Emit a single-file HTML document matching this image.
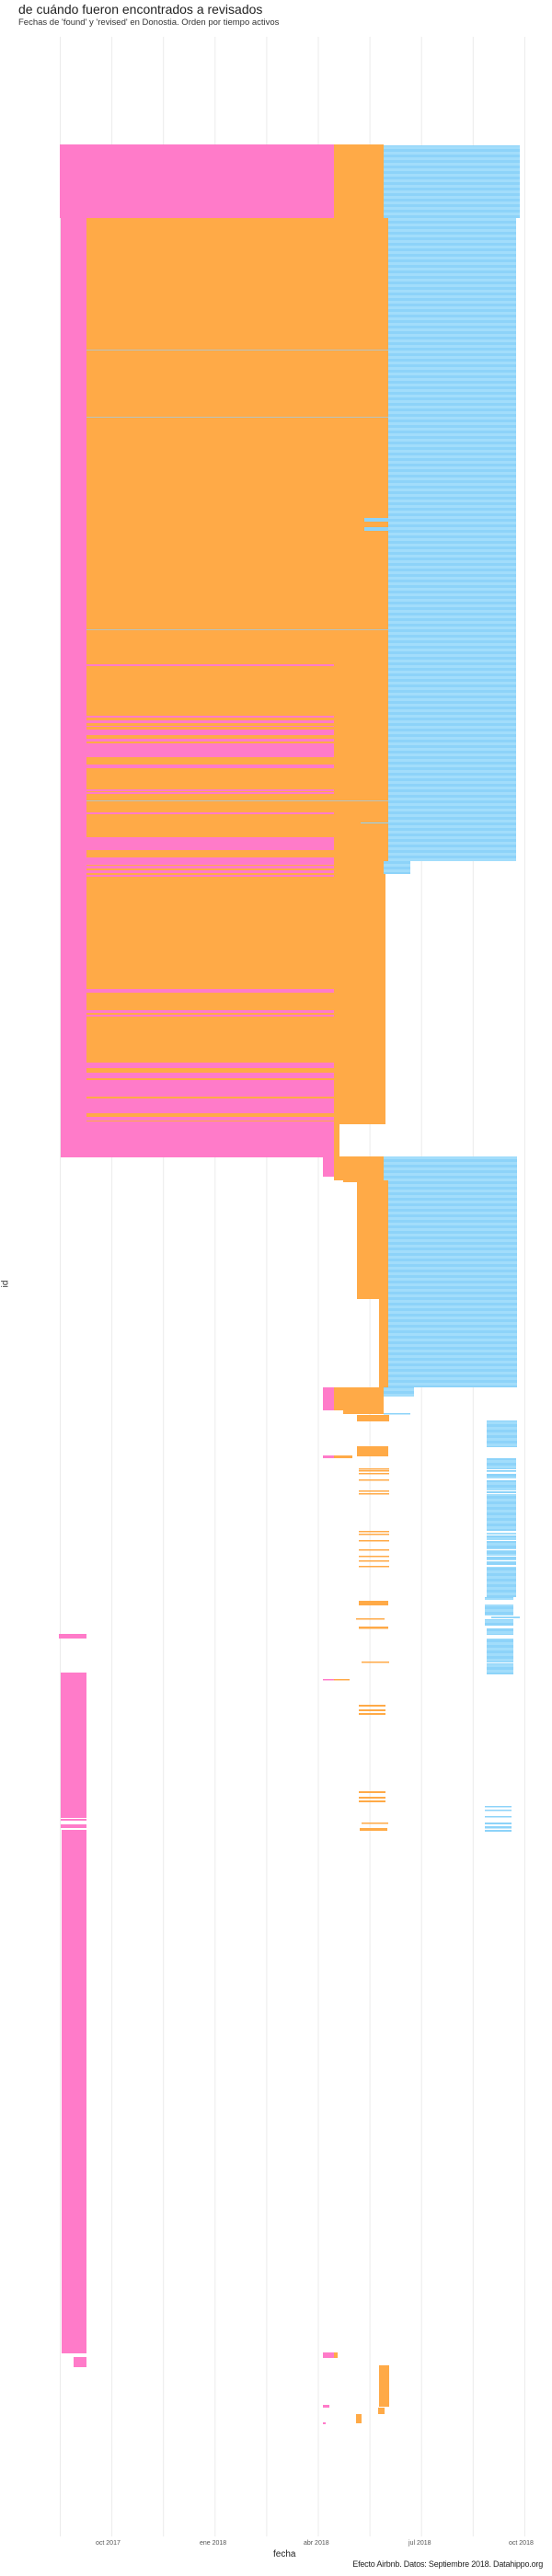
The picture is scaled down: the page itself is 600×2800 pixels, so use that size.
<!DOCTYPE html>
<html><head><meta charset="utf-8"><style>
html,body{margin:0;padding:0;background:#fff;}
body{width:600px;height:2800px;position:relative;overflow:hidden;font-family:"Liberation Sans",sans-serif;}
.t{position:absolute;white-space:nowrap;}
</style></head><body>
<div class="t" style="left:20px;top:2px;font-size:14px;color:#222;">de cuándo fueron encontrados a revisados</div>
<div class="t" style="left:20px;top:19px;font-size:9.5px;color:#333;">Fechas de 'found' y 'revised' en Donostia. Orden por tiempo activos</div>
<div class="t" style="left:2px;top:1390px;font-size:10px;color:#333;transform:rotate(-90deg);">id</div>
<svg width="600" height="2800" style="position:absolute;left:0;top:0" xmlns="http://www.w3.org/2000/svg">
<defs>
<pattern id="bl" width="10" height="6" patternUnits="userSpaceOnUse">
<rect width="10" height="3" fill="#8dd3f9"/><rect y="3" width="10" height="3" fill="#a2ddfb"/>
</pattern>
</defs>
<g stroke="#ebebeb" stroke-width="1">
<line x1="65.5" y1="40" x2="65.5" y2="2757"/><line x1="121.6" y1="40" x2="121.6" y2="2757"/>
<line x1="177.7" y1="40" x2="177.7" y2="2757"/><line x1="233.8" y1="40" x2="233.8" y2="2757"/>
<line x1="289.9" y1="40" x2="289.9" y2="2757"/><line x1="346" y1="40" x2="346" y2="2757"/>
<line x1="402.1" y1="40" x2="402.1" y2="2757"/><line x1="458.2" y1="40" x2="458.2" y2="2757"/>
<line x1="514.3" y1="40" x2="514.3" y2="2757"/><line x1="570.4" y1="40" x2="570.4" y2="2757"/>
</g>
<rect x="65" y="157" width="298" height="80" fill="#ff7bc9"/>
<rect x="363" y="157" width="54" height="80" fill="#ffaa47"/>
<rect x="417" y="158" width="148" height="79" fill="url(#bl)"/>
<rect x="94" y="237" width="328" height="699" fill="#ffaa47"/>
<rect x="94" y="936" width="325" height="286" fill="#ffaa47"/>
<rect x="363" y="1222" width="6" height="35" fill="#ffaa47"/>
<rect x="66" y="237" width="28" height="1021" fill="#ff7bc9"/>
<rect x="422" y="237" width="139" height="699" fill="url(#bl)"/>
<rect x="417" y="936" width="29" height="14" fill="url(#bl)"/>
<g fill="#b9c3bd">
<rect x="94" y="380" width="328" height="1"/><rect x="94" y="453" width="328" height="1"/>
<rect x="94" y="684" width="328" height="1"/><rect x="94" y="870" width="328" height="1"/>
</g>
<g fill="#8dd3f9">
<rect x="396" y="563" width="26" height="4"/><rect x="396" y="573" width="26" height="4"/>
<rect x="392" y="894" width="30" height="1"/>
</g>
<g fill="#ff7bc9">
<rect x="94" y="722" width="269" height="2"/><rect x="94" y="778" width="269" height="2"/>
<rect x="94" y="783" width="269" height="3"/><rect x="94" y="789" width="269" height="1"/>
<rect x="94" y="793" width="269" height="6"/><rect x="94" y="803" width="269" height="3"/>
<rect x="94" y="808" width="269" height="15"/><rect x="94" y="831" width="269" height="4"/>
<rect x="94" y="858" width="269" height="2"/><rect x="94" y="861" width="269" height="2"/>
<rect x="94" y="883" width="269" height="2"/><rect x="94" y="910" width="269" height="14"/>
<rect x="94" y="932" width="269" height="8"/><rect x="94" y="941" width="269" height="3"/>
<rect x="94" y="946" width="269" height="3"/><rect x="94" y="951" width="269" height="2"/>
<rect x="94" y="1075" width="269" height="4"/><rect x="94" y="1098" width="269" height="3"/>
<rect x="94" y="1103" width="269" height="2"/><rect x="94" y="1158" width="269" height="2"/>
<rect x="94" y="1155" width="269" height="6"/><rect x="94" y="1166" width="269" height="6"/>
<rect x="94" y="1174" width="269" height="18"/><rect x="94" y="1194" width="269" height="16"/>
<rect x="94" y="1214" width="269" height="4"/><rect x="94" y="1219" width="269" height="39"/>
</g>
<rect x="417" y="1257" width="145" height="30" fill="url(#bl)"/>
<rect x="422" y="1287" width="140" height="221" fill="url(#bl)"/>
<rect x="351" y="1257" width="12" height="22" fill="#ff7bc9"/>
<rect x="363" y="1257" width="54" height="26" fill="#ffaa47"/>
<rect x="373" y="1283" width="49" height="2" fill="#ffaa47"/>
<rect x="388" y="1284" width="34" height="128" fill="#ffaa47"/>
<rect x="412" y="1412" width="10" height="96" fill="#ffaa47"/>
<rect x="351" y="1508" width="12" height="25" fill="#ff7bc9"/>
<rect x="363" y="1508" width="54" height="25" fill="#ffaa47"/>
<rect x="373" y="1533" width="44" height="4" fill="#ffaa47"/>
<rect x="417" y="1508" width="33" height="10" fill="url(#bl)"/>
<rect x="417" y="1536" width="29" height="1.5" fill="#8dd3f9"/>
<rect x="388" y="1538" width="35" height="7" fill="#ffaa47"/>
<rect x="529" y="1544" width="33" height="29" fill="url(#bl)"/>
<rect x="388" y="1572" width="34" height="11" fill="#ffaa47"/>
<rect x="351" y="1582" width="12" height="3" fill="#ff7bc9"/>
<rect x="363" y="1582" width="20" height="3" fill="#ffaa47"/>
<g fill="#ffaa47">
<rect x="390" y="1596" width="33" height="1.5"/><rect x="390" y="1598" width="33" height="1.5"/>
<rect x="390" y="1601" width="33" height="1.5"/><rect x="390" y="1608" width="33" height="1.5"/>
<rect x="390" y="1620" width="33" height="1.5"/><rect x="390" y="1623" width="33" height="1.5"/>
<rect x="390" y="1664" width="33" height="1.5"/><rect x="390" y="1667" width="33" height="1.5"/>
<rect x="390" y="1674" width="33" height="1.5"/><rect x="390" y="1684" width="33" height="1.5"/>
<rect x="390" y="1691" width="33" height="1.5"/><rect x="390" y="1696" width="33" height="1.5"/>
<rect x="390" y="1702" width="33" height="1.5"/>
<rect x="390" y="1740" width="32" height="5"/><rect x="387" y="1759" width="31" height="1.5"/>
<rect x="390" y="1768" width="32" height="2.5"/><rect x="393" y="1806" width="30" height="1.5"/>
<rect x="363" y="1825" width="17" height="1.5"/>
<rect x="390" y="1853" width="29" height="2"/><rect x="390" y="1858" width="29" height="2"/>
<rect x="390" y="1862" width="29" height="2"/>
<rect x="390" y="1947" width="29" height="2"/><rect x="390" y="1953" width="29" height="2"/>
<rect x="390" y="1957" width="29" height="2"/>
<rect x="393" y="1981" width="29" height="1.5"/><rect x="391" y="1987" width="30" height="3"/>
</g>
<rect x="351" y="1825" width="12" height="1.5" fill="#ff7bc9"/>
<g fill="url(#bl)">
<rect x="529" y="1585" width="32" height="12"/><rect x="529" y="1598" width="32" height="2"/>
<rect x="529" y="1602" width="32" height="5"/><rect x="529" y="1609" width="32" height="11"/>
<rect x="529" y="1621" width="32" height="2"/><rect x="529" y="1624" width="32" height="40"/>
<rect x="529" y="1666" width="32" height="2"/><rect x="529" y="1669" width="32" height="5"/>
<rect x="529" y="1675" width="32" height="9"/><rect x="529" y="1685" width="32" height="6"/>
<rect x="529" y="1692" width="32" height="4"/><rect x="529" y="1697" width="32" height="4"/>
<rect x="529" y="1703" width="32" height="33"/><rect x="527" y="1736" width="31" height="3"/>
<rect x="527" y="1744" width="31" height="12"/><rect x="534" y="1757" width="31" height="2"/>
<rect x="527" y="1760" width="31" height="7"/><rect x="529" y="1770" width="29" height="7"/>
<rect x="529" y="1781" width="29" height="26"/><rect x="529" y="1808" width="29" height="12"/>
</g>
<g fill="#8dd3f9">
<rect x="527" y="1963" width="29" height="1.5"/><rect x="527" y="1967" width="29" height="1.5"/>
<rect x="527" y="1974" width="29" height="1.5"/><rect x="527" y="1981" width="29" height="2"/>
<rect x="527" y="1985" width="29" height="2.5"/><rect x="527" y="1989" width="29" height="2"/>
</g>
<g fill="#ff7bc9">
<rect x="64" y="1776" width="30" height="5"/>
<rect x="66" y="1818" width="28" height="158"/>
<rect x="66" y="1977" width="28" height="2"/>
<rect x="66" y="1983" width="28" height="4"/>
<rect x="67" y="1989" width="27" height="569"/>
<rect x="80" y="2562" width="14" height="11"/>
<rect x="351" y="2557" width="12" height="6"/>
<rect x="351" y="2614" width="7" height="3"/>
<rect x="351" y="2633" width="3" height="2"/>
</g>
<g fill="#ffaa47">
<rect x="363" y="2557" width="4" height="6"/>
<rect x="412" y="2571" width="11" height="45"/>
<rect x="411" y="2617" width="7" height="7"/>
<rect x="387" y="2624" width="6" height="10"/>
</g>
</svg>
<div class="t" style="left:104px;top:2761px;font-size:7px;color:#555;">oct 2017</div>
<div class="t" style="left:217px;top:2761px;font-size:7px;color:#555;">ene 2018</div>
<div class="t" style="left:330px;top:2761px;font-size:7px;color:#555;">abr 2018</div>
<div class="t" style="left:444px;top:2761px;font-size:7px;color:#555;">jul 2018</div>
<div class="t" style="left:553px;top:2761px;font-size:7px;color:#555;">oct 2018</div>
<div class="t" style="left:297px;top:2771px;font-size:10px;color:#222;">fecha</div>
<div class="t" style="right:10px;top:2782px;font-size:9px;letter-spacing:-0.2px;color:#222;">Efecto Airbnb. Datos: Septiembre 2018. Datahippo.org</div>
</body></html>
